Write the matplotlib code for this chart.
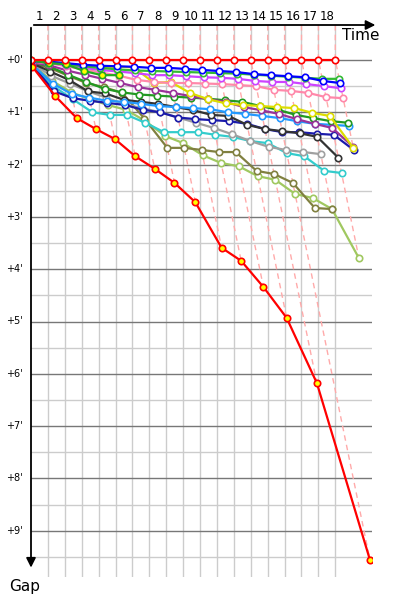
import numpy as np
import matplotlib.pyplot as plt

# leader lap time (minutes) and the axis labels
lap_time = 1.58
laps = list(range(1, 19))
gap_ticks = list(range(10))
gap_labels = ["+%d'" % g for g in gap_ticks]

# gap to the leader in minutes, one value per lap starting at lap 0
gap_leader = [0.0] * 19
gap_blue = [0.02, 0.03, 0.06, 0.09, 0.11, 0.12, 0.13, 0.15, 0.15, 0.17, 0.19, 0.21, 0.23, 0.27, 0.29, 0.31, 0.33, 0.40, 0.44]
gap_green = [0.02, 0.05, 0.08, 0.12, 0.15, 0.18, 0.20, 0.21, 0.22, 0.23, 0.24, 0.25, 0.26, 0.28, 0.30, 0.32, 0.34, 0.36, 0.36]
gap_violet = [0.03, 0.05, 0.10, 0.15, 0.19, 0.22, 0.25, 0.29, 0.29, 0.31, 0.33, 0.34, 0.36, 0.40, 0.42, 0.42, 0.46, 0.50, 0.54]
gap_pink = [0.03, 0.06, 0.12, 0.18, 0.24, 0.30, 0.38, 0.42, 0.44, 0.44, 0.45, 0.46, 0.48, 0.50, 0.57, 0.59, 0.63, 0.71, 0.73]
gap_yellow = [0.03, 0.05, 0.08, 0.12, 0.13, 0.13, 0.14, 0.44, 0.42, 0.63, 0.75, 0.83, 0.86, 0.88, 0.90, 0.92, 1.01, 1.07, 1.68]
gap_purple = [0.05, 0.10, 0.20, 0.28, 0.36, 0.44, 0.52, 0.57, 0.63, 0.69, 0.75, 0.80, 0.90, 0.96, 1.03, 1.13, 1.22, 1.30, 1.66]
gap_forest = [0.05, 0.12, 0.28, 0.42, 0.55, 0.62, 0.66, 0.68, 0.70, 0.72, 0.74, 0.77, 0.80, 0.88, 0.95, 1.05, 1.11, 1.17, 1.20]
gap_sky = [0.08, 0.45, 0.65, 0.72, 0.78, 0.80, 0.84, 0.88, 0.90, 0.92, 0.94, 1.00, 1.03, 1.07, 1.11, 1.17, 1.22, 1.24, 1.26]
gap_black = [0.06, 0.22, 0.38, 0.60, 0.64, 0.76, 0.80, 0.84, 0.90, 0.96, 1.05, 1.07, 1.24, 1.32, 1.36, 1.40, 1.47, 1.87]
gap_navy = [0.10, 0.60, 0.73, 0.78, 0.82, 0.86, 0.95, 1.00, 1.10, 1.13, 1.15, 1.17, 1.22, 1.32, 1.38, 1.38, 1.41, 1.43, 1.72]
gap_gray = [0.07, 0.30, 0.45, 0.60, 0.72, 0.85, 0.92, 1.00, 1.10, 1.20, 1.30, 1.42, 1.55, 1.66, 1.72, 1.76, 1.80]
gap_cyan = [0.10, 0.50, 0.75, 1.00, 1.05, 1.05, 1.20, 1.38, 1.38, 1.38, 1.43, 1.47, 1.55, 1.59, 1.78, 1.84, 2.12, 2.16]
gap_olive = [0.06, 0.15, 0.30, 0.44, 0.52, 0.63, 1.12, 1.68, 1.68, 1.72, 1.76, 1.76, 2.12, 2.18, 2.35, 2.83, 2.85]
gap_lime = [0.08, 0.40, 0.62, 0.75, 0.86, 0.95, 1.16, 1.45, 1.59, 1.82, 1.97, 2.03, 2.22, 2.29, 2.56, 2.64, 2.85, 3.79]
gap_out = [0.0, 0.06, 0.08, 0.21, 0.29, 0.29]
gap_last = [0.13, 0.69, 1.11, 1.32, 1.51, 1.84, 2.08, 2.35, 2.72, 3.59, 3.84, 4.34, 4.93, 6.18, 9.56]

cars = [
    (gap_lime, '#a0c860', 'white'),
    (gap_olive, '#808040', 'white'),
    (gap_cyan, '#33cccc', 'white'),
    (gap_gray, '#a0a0a0', 'white'),
    (gap_navy, '#1a1aaa', 'white'),
    (gap_black, '#333333', 'white'),
    (gap_sky, '#2299ff', 'white'),
    (gap_forest, '#229922', 'white'),
    (gap_purple, '#993399', 'white'),
    (gap_yellow, '#dddd00', 'white'),
    (gap_pink, '#ff88aa', 'white'),
    (gap_violet, '#cc44ff', 'white'),
    (gap_green, '#33bb33', 'white'),
    (gap_blue, '#0000ff', 'white'),
    (gap_out, '#22aa22', '#ffff00'),
    (gap_last, '#ff0000', '#ffff00'),
    (gap_leader, '#ff0000', 'white'),
]

x_max = 341 / 10.7
y_top = -35 / 52.3
y_bot = 517 / 52.3

fig = plt.figure(figsize=(4, 6), dpi=100)
ax = fig.add_axes([31 / 400, 23 / 600, 341 / 400, 552 / 600])
ax.set_xlim(0, x_max)
ax.set_ylim(y_bot, y_top)
ax.axis('off')

# grid
for k in laps:
    ax.plot([k * lap_time] * 2, [y_top, y_bot], color='#cccccc', lw=1, zorder=1)
for g in gap_ticks:
    ax.plot([0, x_max], [g + 0.5] * 2, color='#cccccc', lw=1, zorder=1)
    ax.plot([0, x_max], [g, g], color='#777777', lw=1, zorder=1.5)

# lap lines: from the leader down to the slowest car on that lap
for k in laps:
    worst = max(c[0][k] for c in cars if len(c[0]) > k)
    ax.plot([k * lap_time, k * lap_time, k * lap_time + worst], [y_top, 0, worst],
            color='#ffaaaa', lw=1, ls=(0, (4, 3)), zorder=2)

for gaps, col, face in cars:
    g = np.array(gaps)
    x = np.arange(len(g)) * lap_time + g
    ax.plot(x, g, color=col, lw=1.6, marker='o', ms=4.6, mfc=face, mec=col,
            mew=1.2, zorder=3)

# axes with arrows
ax.annotate('', xy=(1.018, 1), xytext=(0, 1), xycoords='axes fraction',
            arrowprops=dict(arrowstyle='-|>', color='black', lw=1.3,
                            mutation_scale=14), annotation_clip=False)
ax.annotate('', xy=(0, 0.012), xytext=(0, 1), xycoords='axes fraction',
            arrowprops=dict(arrowstyle='-|>', color='black', lw=1.3,
                            mutation_scale=14), annotation_clip=False)

for k in laps:
    ax.text((k - 0.5) * lap_time, -43 / 52.3, str(k), ha='center', va='center',
            fontsize=8.5, clip_on=False)
for g, lab in zip(gap_ticks, gap_labels):
    ax.text(-0.8, g, lab, ha='right', va='center', fontsize=7, clip_on=False)

ax.text(30.8, -25 / 52.3, 'Time', ha='center', va='center', fontsize=11, clip_on=False)
ax.text(-0.56, 527 / 52.3, 'Gap', ha='center', va='center', fontsize=11, clip_on=False)

fig.savefig('out.png', dpi=100)
